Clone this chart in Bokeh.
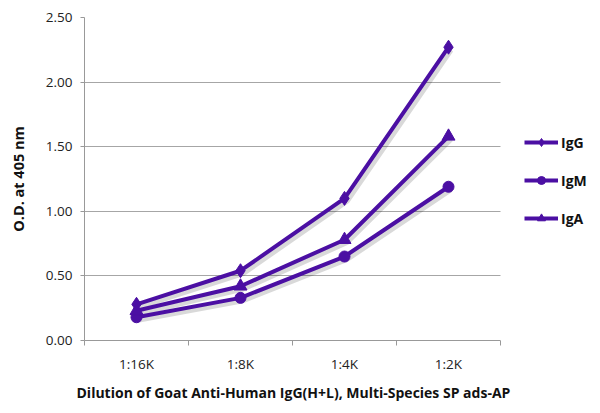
from bokeh.plotting import figure
from bokeh.models import FixedTicker, Legend, LegendItem, ColumnDataSource, BoxAnnotation, Title
from bokeh.transform import dodge
from bokeh.embed import file_html
from bokeh.resources import INLINE

categories = ["1:16K", "1:8K", "1:4K", "1:2K"]
igg = [0.28, 0.54, 1.10, 2.27]
igm = [0.18, 0.33, 0.65, 1.19]
iga = [0.23, 0.42, 0.78, 1.58]
y_ticks = [0.0, 0.5, 1.0, 1.5, 2.0, 2.5]
x_title = "Dilution of Goat Anti-Human IgG(H+L), Multi-Species SP ads-AP"
y_title = "O.D. at 405 nm"

COLOR = "#4b0fa3"
FONT = "Open Sans"

xs = [i + 1 for i in range(len(categories))]
x_lo, x_hi = 0.5, len(categories) + 0.5
# frame runs on to the page edge so the legend can sit beside the plot area
x_view_end = x_lo + (600 - 84) / 104.0

p = figure(width=600, height=413, output_backend="svg", toolbar_location=None,
           x_range=(x_lo, x_view_end), y_range=(0, 2.5),
           min_border_left=84, min_border_right=0, min_border_top=17, min_border_bottom=73)
p.outline_line_color = None
p.background_fill_color = "white"
p.border_fill_color = "white"

# axes
p.xaxis.bounds = (x_lo, x_hi)
p.xaxis.ticker = FixedTicker(ticks=xs, minor_ticks=[x - 0.5 for x in xs] + [xs[-1] + 0.5])
p.xaxis.major_label_overrides = {x: c for x, c in zip(xs, categories)}
p.xaxis.major_tick_out = 0
p.xaxis.major_tick_in = 0
p.xaxis.minor_tick_out = 5
p.xaxis.minor_tick_in = 0
p.xaxis.minor_tick_line_color = "#999999"
p.xaxis.axis_line_color = "#999999"
p.xaxis.major_label_standoff = 9

p.yaxis.ticker = FixedTicker(ticks=y_ticks, minor_ticks=[])
p.yaxis.major_label_overrides = {t: f"{t:.2f}" for t in y_ticks}
p.yaxis.major_tick_out = 4
p.yaxis.major_tick_in = 0
p.yaxis.major_tick_line_color = "#999999"
p.yaxis.axis_line_color = "#999999"
p.yaxis.major_label_standoff = 8
p.yaxis.axis_label = y_title
p.yaxis.axis_label_standoff = 15
p.yaxis.axis_label_text_font = FONT
p.yaxis.axis_label_text_font_size = "14.5px"
p.yaxis.axis_label_text_font_style = "bold"
p.yaxis.axis_label_text_color = "#111111"

for ax in (p.xaxis, p.yaxis):
    ax.major_label_text_font = FONT
    ax.major_label_text_font_size = "13.5px"
    ax.major_label_text_color = "#222222"

# x-axis title centred under the plot area (not the legend zone)
p.add_layout(Title(text=x_title, align="left", offset=-8, standoff=11,
                   text_font=FONT, text_font_size="14px", text_font_style="bold",
                   text_color="#111111"), "below")

p.xgrid.grid_line_color = None
p.ygrid.grid_line_color = "#a6a6a6"
p.ygrid.grid_line_width = 1

# hide gridlines to the right of the plot area (legend zone)
p.add_layout(BoxAnnotation(left=x_hi, fill_color="white", fill_alpha=1.0, line_color=None))

src = ColumnDataSource(dict(x=xs, igg=igg, igm=igm, iga=iga))

series = [("igg", "IgG", "diamond", 14),
          ("igm", "IgM", "circle", 11),
          ("iga", "IgA", "triangle", 13)]

# soft drop shadow
for col, name, marker, size in series:
    p.line(x=dodge("x", 0.025, range=p.x_range), y=dodge(col, -0.022, range=p.y_range),
           source=src, line_color="#000000", line_alpha=0.15, line_width=5)

items = []
for col, name, marker, size in series:
    l = p.line("x", col, source=src, line_color=COLOR, line_width=4)
    s = p.scatter("x", col, source=src, marker=marker, size=size,
                  fill_color=COLOR, line_color=COLOR)
    items.append(LegendItem(label=name, renderers=[l, s]))

legend = Legend(items=items, location=(440, 112), orientation="vertical",
                background_fill_alpha=0, border_line_color=None,
                label_text_font=FONT, label_text_font_style="bold",
                label_text_font_size="14px", label_text_color="#111111",
                glyph_width=34, glyph_height=20, spacing=18, label_standoff=3,
                padding=0, margin=0)
p.add_layout(legend, "center")

open("out.html", "w").write(file_html(p, INLINE))
